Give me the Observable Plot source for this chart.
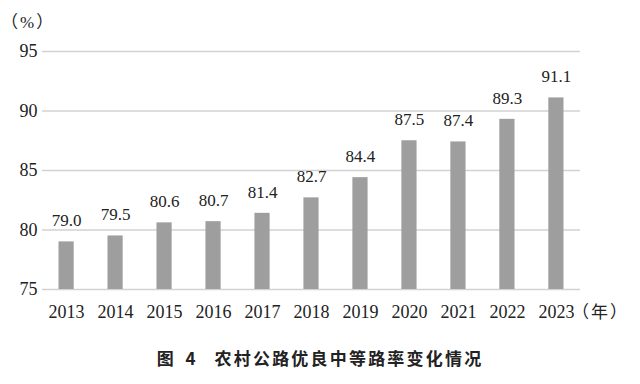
<!DOCTYPE html>
<html><head><meta charset="utf-8">
<script src="https://cdn.jsdelivr.net/npm/d3@7"></script>
<script src="https://cdn.jsdelivr.net/npm/@observablehq/plot@0.6"></script>
<style>
body{margin:0;background:#fff;}
#wrap{position:relative;width:640px;height:384px;}
#chart svg, #chart svg g, #chart svg text{font-family:"Liberation Serif","Times New Roman",serif !important;}
.unit{position:absolute;font-family:"Liberation Serif","Noto Sans CJK SC",serif;font-size:17px;color:#222;line-height:20px;letter-spacing:2px;}
#cap{position:absolute;left:0;width:640px;top:347px;text-align:center;font-family:"Noto Sans CJK SC",sans-serif;font-weight:bold;font-size:17px;color:#222;line-height:22px;}
#cap .t{letter-spacing:2.2px;}
</style></head>
<body><div id="wrap"><div id="chart"></div>
<div class="unit" style="left:1px;top:13px;">（%）</div>
<div class="unit" style="left:572px;top:303px;">（年）</div>
<div id="cap"><span style="letter-spacing:4px;">图 4</span><span class="t" style="margin-left:15px;">农村公路优良中等路率变化情况</span></div>
</div>
<script>
const years = ["2013","2014","2015","2016","2017","2018","2019","2020","2021","2022","2023"];
const values = [79.0,79.5,80.6,80.7,81.4,82.7,84.4,87.5,87.4,89.3,91.1];
const yTicks = [75,80,85,90,95];
const data = years.map((y,i)=>({year:y,value:values[i]}));
const chart = Plot.plot({
  width:640, height:330,
  marginLeft:42, marginRight:60, marginTop:51, marginBottom:41,
  style:{background:"#fff"},
  x:{domain:years, paddingInner:0.69, paddingOuter:0.337, round:false, label:null, axis:null},
  y:{domain:[75,95], label:null, axis:null},
  marks:[
    Plot.gridY(yTicks,{stroke:"#d2d2d2", strokeOpacity:1, strokeWidth:1.3}),
    Plot.axisY(yTicks,{tickSize:0, tickPadding:5, fontSize:18, fill:"#222", label:null}),
    Plot.axisX(years,{tickSize:0, tickPadding:16, fontSize:18, fill:"#222", label:null}),
    Plot.barY(data,{x:"year", y1:75, y2:"value", fill:"#9e9e9e"}),
    Plot.text(data,{x:"year", y:"value", text:d=>d.value.toFixed(1), dy:-21, fontSize:17, fill:"#222"})
  ]
});
document.getElementById("chart").appendChild(chart);
</script>
</body></html>
